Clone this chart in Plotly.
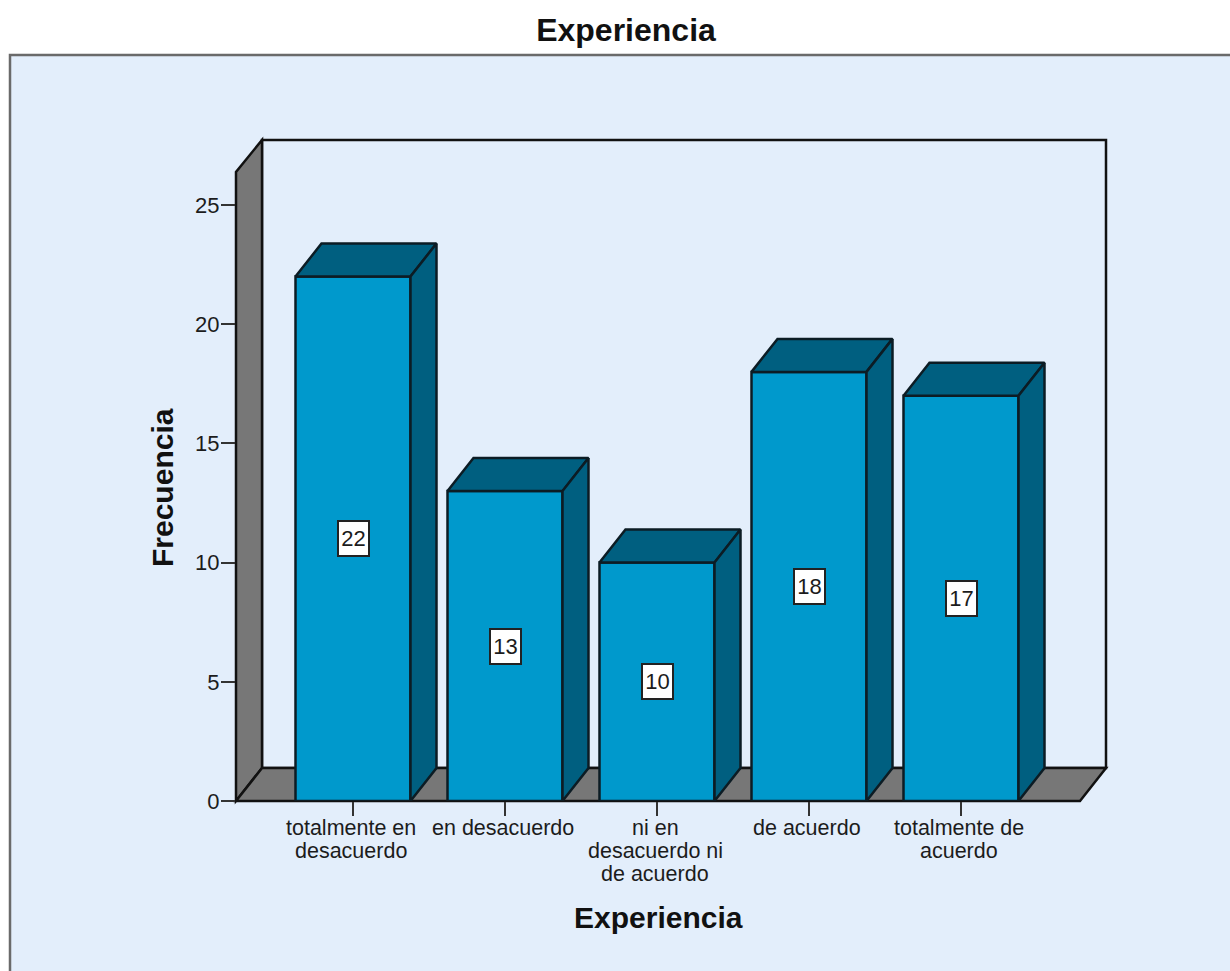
import plotly.graph_objects as go

# Survey responses for the "Experiencia" item; each category lists its wrapped lines
category_lines = [
    ["totalmente en", "desacuerdo"],
    ["en desacuerdo"],
    ["ni en", "desacuerdo ni", "de acuerdo"],
    ["de acuerdo"],
    ["totalmente de", "acuerdo"],
]
frequencies = [22, 13, 10, 18, 17]
y_ticks = [0, 5, 10, 15, 20, 25]

WIDTH, HEIGHT = 1230, 971
FONT = "Liberation Sans"
TEXT = "#1c1c1c"
PANEL = "#E3EEFB"
FRONT = "#0099CC"
SHADE = "#005F80"
WALL = "#777777"
EDGE = "#0c1c24"

# Pixel frame of the plotting box and the depth of the pseudo-3D extrusion
LEFT, RIGHT, BOTTOM, TOP = 236, 1106, 801, 140
DEPTH_X, DEPTH_Y = 26, 33
PX_PER_CATEGORY = 152
PX_PER_UNIT = 23.84
FIRST_CENTER = 353
BAR_PX = 115
LABEL_FIRST_LINE = 827.5
LABEL_LINE_STEP = 23
LABEL_NUDGE = -2 / PX_PER_CATEGORY

x_range = [(LEFT - FIRST_CENTER) / PX_PER_CATEGORY, (RIGHT - FIRST_CENTER) / PX_PER_CATEGORY]
y_range = [0, (BOTTOM - TOP) / PX_PER_UNIT]
dx = DEPTH_X / PX_PER_CATEGORY
dy = DEPTH_Y / PX_PER_UNIT
half = BAR_PX / PX_PER_CATEGORY / 2


def path(points):
    """Closed SVG path in paper coordinates from page pixels."""
    coords = [f"{x / WIDTH:.5f},{1 - y / HEIGHT:.5f}" for x, y in points]
    return "M" + " L".join(coords) + " Z"


fig = go.Figure()

positions = list(range(len(frequencies)))
fig.add_trace(go.Bar(
    x=positions, y=frequencies, width=2 * half,
    marker=dict(color=FRONT, line=dict(color=EDGE, width=2.5)),
    hoverinfo="skip", showlegend=False,
))

# Top and side faces of each extruded bar
for pos, value in zip(positions, frequencies):
    l, r = pos - half, pos + half
    fig.add_trace(go.Scatter(
        x=[l, l + dx, r + dx, r, l], y=[value, value + dy, value + dy, value, value],
        mode="lines", fill="toself", fillcolor=SHADE, line=dict(color=EDGE, width=2.5),
        hoverinfo="skip", showlegend=False,
    ))
    fig.add_trace(go.Scatter(
        x=[r, r + dx, r + dx, r, r], y=[0, dy, value + dy, value, 0],
        mode="lines", fill="toself", fillcolor=SHADE, line=dict(color=EDGE, width=2.5),
        hoverinfo="skip", showlegend=False,
    ))

shapes = [
    # Chart panel; runs past the right and bottom page edges
    dict(type="rect", xref="paper", yref="paper", layer="below",
         x0=10 / WIDTH, x1=1.1, y0=-0.1, y1=1 - 55 / HEIGHT,
         fillcolor=PANEL, line=dict(color="#6a6a6a", width=2.5)),
    # Back wall outline
    dict(type="path", xref="paper", yref="paper", layer="below",
         path=path([(LEFT + DEPTH_X, BOTTOM - DEPTH_Y), (LEFT + DEPTH_X, TOP),
                    (RIGHT, TOP), (RIGHT, BOTTOM - DEPTH_Y)]),
         fillcolor=PANEL, line=dict(color="#111111", width=2.5)),
    # Left wall
    dict(type="path", xref="paper", yref="paper", layer="below",
         path=path([(LEFT, BOTTOM), (LEFT + DEPTH_X, BOTTOM - DEPTH_Y),
                    (LEFT + DEPTH_X, TOP), (LEFT, TOP + DEPTH_Y - 1)]),
         fillcolor=WALL, line=dict(color="#111111", width=2.5)),
    # Floor
    dict(type="path", xref="paper", yref="paper", layer="below",
         path=path([(LEFT, BOTTOM), (LEFT + DEPTH_X, BOTTOM - DEPTH_Y),
                    (RIGHT, BOTTOM - DEPTH_Y), (RIGHT - DEPTH_X, BOTTOM)]),
         fillcolor=WALL, line=dict(color="#111111", width=2.5)),
]

# Value labels sit halfway up each bar
annotations = [
    dict(x=pos, y=value / 2, xref="x", yref="y", text=str(value), showarrow=False,
         font=dict(family=FONT, size=22, color=TEXT),
         bgcolor="white", bordercolor="#222222", borderwidth=2, borderpad=0,
         width=29, height=33)
    for pos, value in zip(positions, frequencies)
]

# Category labels, one annotation per line to keep the wrapped lines tight
for pos, lines in zip(positions, category_lines):
    for i, line in enumerate(lines):
        annotations.append(dict(
            x=pos + LABEL_NUDGE, y=1 - (LABEL_FIRST_LINE + i * LABEL_LINE_STEP) / HEIGHT,
            xref="x", yref="paper", text=line, showarrow=False,
            xanchor="center", yanchor="middle",
            font=dict(family=FONT, size=21.5, color=TEXT),
        ))

annotations += [
    dict(x=658 / WIDTH, y=1 - 917 / HEIGHT, xref="paper", yref="paper", text="<b>Experiencia</b>",
         showarrow=False, xanchor="center", yanchor="middle",
         font=dict(family=FONT, size=30, color="#111111")),
    dict(x=163 / WIDTH, y=1 - 487 / HEIGHT, xref="paper", yref="paper", text="<b>Frecuencia</b>",
         textangle=-90, showarrow=False, xanchor="center", yanchor="middle",
         font=dict(family=FONT, size=30, color="#111111")),
]

fig.update_layout(
    width=WIDTH, height=HEIGHT,
    margin=dict(l=0, r=0, t=0, b=0),
    paper_bgcolor="white", plot_bgcolor="rgba(0,0,0,0)",
    title=dict(text="<b>Experiencia</b>", x=626 / WIDTH, xanchor="center",
               y=1 - 30 / HEIGHT, yanchor="middle", automargin=False,
               font=dict(family=FONT, size=32, color="#111111")),
    xaxis=dict(domain=[LEFT / WIDTH, RIGHT / WIDTH], range=x_range, tickmode="array",
               tickvals=positions, showticklabels=False, ticks="outside", ticklen=14,
               tickwidth=2, tickcolor="#333333", showgrid=False, zeroline=False, showline=False,
               automargin=False),
    yaxis=dict(domain=[1 - BOTTOM / HEIGHT, 1 - TOP / HEIGHT], range=y_range, tickmode="array",
               tickvals=y_ticks, ticks="outside", ticklen=14, tickwidth=2, tickcolor="#333333",
               showgrid=False, zeroline=False, showline=False, automargin=False,
               ticklabelstandoff=-3,
               tickfont=dict(family=FONT, size=22, color=TEXT)),
    shapes=shapes,
    annotations=annotations,
)

fig.write_html("out.html")
